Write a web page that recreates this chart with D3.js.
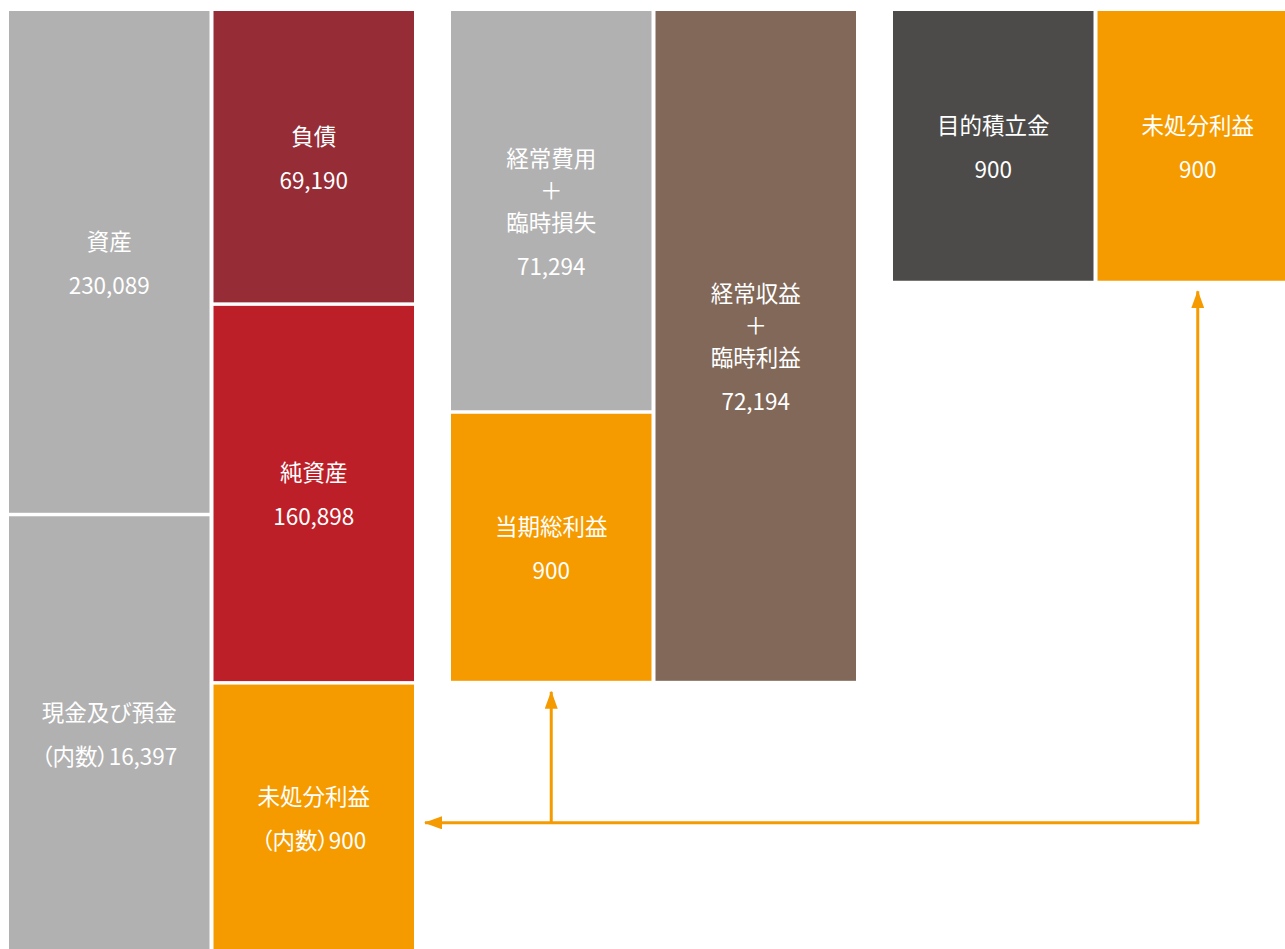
<!DOCTYPE html>
<html lang="ja">
<head>
<meta charset="UTF-8">
<script src="https://d3js.org/d3.v7.min.js"></script>
<title>財務諸表の概要</title>
<style>
  html, body { margin: 0; padding: 0; background: #fff; }
  svg { display: block; }
</style>
</head>
<body>
<div id="chart"></div>
<script>

// data
const groups = ["貸借対照表", "損益計算書", "利益処分"];
const names = ["資産", "現金及び預金", "負債", "純資産", "未処分利益",
               "経常費用\n＋\n臨時損失", "当期総利益", "経常収益\n＋\n臨時利益",
               "目的積立金", "未処分利益"];
const values = [230089, 16397, 69190, 160898, 900, 71294, 900, 72194, 900, 900];
const isInner = [false, true, false, false, true, false, false, false, false, false];
const kinds = ["asset", "asset", "debt", "equity", "profit",
               "asset", "profit", "income", "reserve", "profit"];

// layout of the schematic (column, top and bottom as share of the full height)
const blockGroup = [0, 0, 0, 0, 0, 1, 1, 1, 2, 2];
const blockCol   = [0, 0, 1, 1, 1, 0, 0, 1, 0, 1];
const blockTop   = [0, 0.5334, 0, 0.3105, 0.7117, 0, 0.4248, 0, 0, 0];
const blockBot   = [0.5334, 1.02, 0.3105, 0.7117, 1.02, 0.4248, 0.7114, 0.7114, 0.2876, 0.2876];

const color = d3.scaleOrdinal()
  .domain(["asset", "debt", "equity", "profit", "income", "reserve"])
  .range(["#b1b1b1", "#962c36", "#bd1f29", "#f59b00", "#816859", "#4c4b49"]);

const width = 1285, height = 949;
const gap = 3.5;

const svg = d3.select("#chart").append("svg")
  .attr("width", width)
  .attr("height", height);

const xGroup = d3.scaleBand()
  .domain(groups)
  .range([9, 1298])
  .paddingInner(0.0837);

const xCol = d3.scaleBand()
  .domain([0, 1])
  .range([0, xGroup.bandwidth()])
  .paddingInner(0.0196);

const y = d3.scaleLinear()
  .domain([0, 1])
  .range([11, 955]);

const blocks = names.map((n, i) => ({
  name: n,
  value: values[i],
  inner: isInner[i],
  kind: kinds[i],
  x: xGroup(groups[blockGroup[i]]) + xCol(blockCol[i]),
  top: y(blockTop[i]) + (blockTop[i] > 0 ? gap / 2 : 0),
  bot: y(blockBot[i]) - gap / 2
}));

const fmt = d3.format(",");

const g = svg.selectAll("g.block")
  .data(blocks)
  .join("g")
    .attr("class", "block");

g.append("rect")
  .attr("x", d => d.x)
  .attr("y", d => d.top)
  .attr("width", xCol.bandwidth())
  .attr("height", d => d.bot - d.top)
  .attr("fill", d => color(d.kind));

g.each(function(d) {
  const lines = d.name.split("\n");
  lines.push((d.inner ? "（内数）" : "") + fmt(d.value));
  // name lines 32px apart, value line 44px below the name
  const offs = [];
  let o = 0;
  lines.forEach((l, i) => {
    offs.push(o);
    o += (i === lines.length - 2) ? 44 : 32;
  });
  const span = offs[offs.length - 1];
  const cx = d.x + xCol.bandwidth() / 2;
  const cy = (d.top + Math.min(d.bot, height)) / 2;
  d3.select(this).selectAll("text")
    .data(lines)
    .join("text")
      .attr("x", cx)
      .attr("y", (l, i) => cy - span / 2 + offs[i])
      .attr("text-anchor", "middle")
      .attr("dominant-baseline", "central")
      .attr("fill", "#fff")
      .style("font-family", "'Noto Sans CJK JP', 'Noto Sans', sans-serif")
      .style("font-size", "22.5px")
      .style("font-weight", 400)
      .style("font-feature-settings", l => l.startsWith("（") ? "'palt'" : "normal")
      .text(l => l);
});

// arrows: profit flows back to 未処分利益 of the balance sheet
const arrowColor = "#f59b00";
svg.append("defs").append("marker")
  .attr("id", "head")
  .attr("viewBox", "0 0 18 13")
  .attr("refX", 17)
  .attr("refY", 6.5)
  .attr("markerWidth", 18)
  .attr("markerHeight", 13)
  .attr("markerUnits", "userSpaceOnUse")
  .attr("orient", "auto")
  .append("path")
    .attr("d", "M0,0L18,6.5L0,13Z")
    .attr("fill", arrowColor);

const lineY = y(0.86);
const pl = blocks[6], res = blocks[9], bs = blocks[4];
const plX = pl.x + xCol.bandwidth() / 2;
const resX = res.x + xCol.bandwidth() / 2;
const bsX = bs.x + xCol.bandwidth() + 11;

svg.append("path")
  .attr("d", `M${resX},${lineY}L${resX},${res.bot + 10.5}`)
  .attr("stroke", arrowColor).attr("stroke-width", 3).attr("fill", "none")
  .attr("marker-end", "url(#head)");

svg.append("path")
  .attr("d", `M${resX + 1.5},${lineY}L${bsX},${lineY}`)
  .attr("stroke", arrowColor).attr("stroke-width", 3).attr("fill", "none")
  .attr("marker-end", "url(#head)");

svg.append("path")
  .attr("d", `M${plX},${lineY}L${plX},${pl.bot + 11}`)
  .attr("stroke", arrowColor).attr("stroke-width", 3).attr("fill", "none")
  .attr("marker-end", "url(#head)");

</script>
</body>
</html>
